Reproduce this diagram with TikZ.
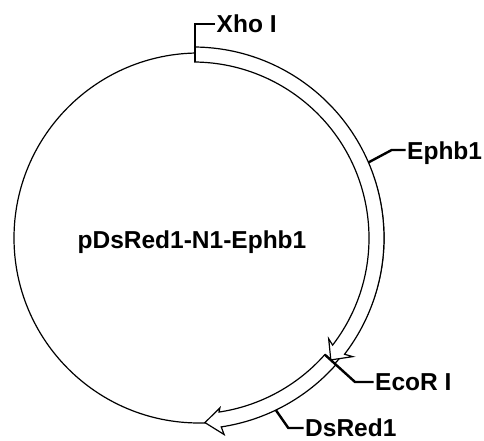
\documentclass[tikz,border=0pt]{standalone}
\usepackage{fontspec}
\setmainfont{Liberation Sans}
\usetikzlibrary{calc}

\tikzset{
    plasmid/.style={line width=1.2pt},
    band/.style={line width=1.2pt, fill=white},
    tick/.style={line width=2.4pt},
    sitelabel/.style={font=\fontsize{24.5}{28}\selectfont\bfseries, text height=17.5pt, text depth=0pt, inner sep=1.5pt},
}

\begin{document}
\begin{tikzpicture}[x=1pt,y=1pt]
    \useasboundingbox (0,0) rectangle (484,441);

    \def\rin{176}
    \def\rout{191}
    \coordinate (P) at (199, 203);
    \coordinate (B) at (193, 203);

    \draw[plasmid] (P) circle[radius=185];

    \begin{scope}[shift={(B)}]
        % DsRed1
        \draw[band] (-41.5:\rout) arc[start angle=-41.5, end angle=-81.5, radius=\rout]
            -- (-81:199) -- (-86.3:185) -- (-81:172)
            -- (-81.5:\rin) arc[start angle=-81.5, end angle=-41.5, radius=\rin] -- cycle;
        % Ephb1
        \draw[band] (89.4:\rout) arc[start angle=89.4, end angle=-37.5, radius=\rout]
            -- (-36.6:199) -- (-41.5:184) -- (-36.6:169)
            -- (-37.5:\rin) arc[start angle=-37.5, end angle=89.4, radius=\rin] -- cycle;
        \coordinate (xs) at (89.4:\rin);
        \coordinate (es) at (23.3:\rout);
        \coordinate (cs) at (-41.5:\rin);
        \coordinate (ds) at (-64.3:\rout);
    \end{scope}

    \node[sitelabel, anchor=center] (name) at (192, 201) {pDsRed1-N1-Ephb1};

    \node[sitelabel, anchor=west] (xho) at (215, 417) {Xho I};
    \node[sitelabel, anchor=west] (ephb) at (405.5, 290.5) {Ephb1};
    \node[sitelabel, anchor=west] (ecor) at (373.5, 59) {EcoR I};
    \node[sitelabel, anchor=west] (dsred) at (303.5, 13) {DsRed1};

    \coordinate (ek) at (391.7, 291);
    \coordinate (ck) at (355, 59);
    \coordinate (dk) at (288.3, 13);

    \draw[tick] (xs) |- (xho.west);
    \draw[tick] (es) -- (ek) -- (ek -| ephb.west);
    \draw[tick] (cs) -- (ck) -- (ecor.west);
    \draw[tick] (ds) -- (dk) -- (dk -| dsred.west);
\end{tikzpicture}
\end{document}
